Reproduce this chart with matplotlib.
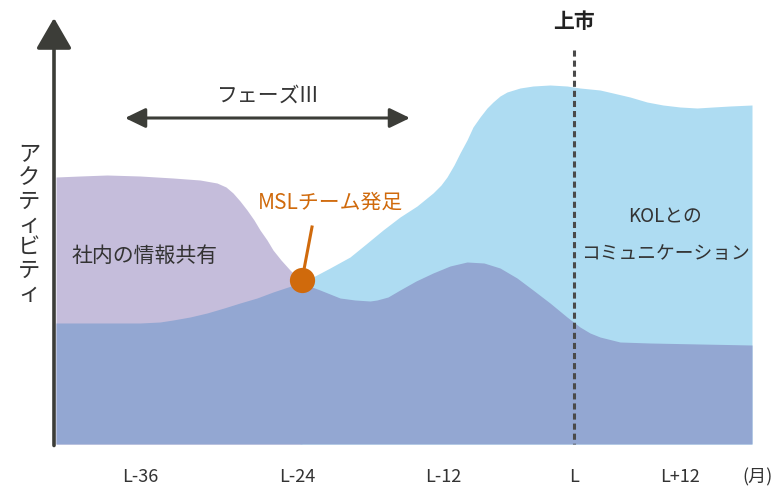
import matplotlib
matplotlib.use("Agg")
import matplotlib.pyplot as plt

plt.rcParams['font.family'] = ['Noto Sans CJK JP', 'DejaVu Sans']

# curves (x: horizontal position, y: screen row, top = 0)
purple_x = [56, 80, 107, 140, 173, 200, 217, 226, 233, 240, 247, 254, 260, 267, 273, 281, 290, 296, 302]
purple_y = [177, 176, 175, 176, 178, 180, 183, 187, 193, 201, 210, 220, 230, 240, 250, 260, 270, 276, 280]

blue_x = [300, 313, 330, 350, 366, 383, 400, 417, 433, 441, 447, 454, 460, 467, 473, 480, 487, 493, 500, 507,
          520, 533, 550, 567, 580, 600, 613, 630, 647, 663, 680, 697, 713, 730, 752]
blue_y = [281, 277, 268, 257, 244, 230, 217, 206, 193, 185, 177, 165, 153, 140, 127, 117, 108, 102, 96, 92,
          88, 86, 85, 86, 88, 90, 93, 97, 102, 105, 107, 108, 107, 106, 105]

base_x = [56, 100, 140, 160, 173, 190, 207, 224, 240, 257, 273, 288, 302, 312, 320, 330, 340, 355, 370, 377,
          388, 400, 416, 433, 450, 467, 484, 500, 517, 533, 550, 567, 580, 590, 600, 620, 650, 700, 752]
base_y = [323, 323, 323, 322, 320, 317, 313, 308, 303, 298, 292, 287, 283, 287, 290, 294, 298, 300, 301, 300,
          297, 290, 281, 273, 266, 262, 263, 268, 278, 290, 303, 317, 327, 333, 337, 342, 343, 344, 345]

tick_x = [140, 297, 443, 574, 680, 758]
tick_labels = ['L-36', 'L-24', 'L-12', 'L', 'L+12', '(月)']

launch_x = 574
msl_x, msl_y = 302, 280
phase_start, phase_end = 125, 410
axis_y = 444
axis_x = 54

c_purple = '#c5bddb'
c_blue = '#aedcf2'
c_base = '#93a7d2'
c_dark = '#3c3d38'
c_text = '#333333'
c_orange = '#d06a0c'

fig = plt.figure(figsize=(7.74, 4.90), dpi=100)
ax = fig.add_axes([0, 0, 1, 1])
ax.set_xlim(0, 774)
ax.set_ylim(490, 0)
ax.axis('off')

ax.fill_between(purple_x, purple_y, axis_y, color=c_purple, lw=0, zorder=1)
ax.fill_between(blue_x, blue_y, axis_y, color=c_blue, lw=0, zorder=1)
ax.fill_between(base_x, base_y, axis_y, color=c_base, lw=0, zorder=2)

# launch line
ax.plot([launch_x, launch_x], [50, axis_y], color='#4a4a4a', lw=2.2,
        linestyle=(0, (2.0, 1.3)), zorder=3)
ax.text(launch_x, 22, '上市', ha='center', va='center', fontsize=15,
        fontweight='bold', color='#222222')

# axes with arrows
ax.annotate('', xy=(axis_x, 18), xytext=(axis_x, axis_y + 1.5),
            arrowprops=dict(arrowstyle='-|>,head_length=0.95,head_width=0.55',
                            mutation_scale=20, lw=2.6, color=c_dark,
                            shrinkA=0, shrinkB=0), zorder=5)
ax.annotate('', xy=(776, axis_y), xytext=(axis_x - 1.5, axis_y),
            arrowprops=dict(arrowstyle='-|>,head_length=0.95,head_width=0.55',
                            mutation_scale=20, lw=2.6, color=c_dark,
                            shrinkA=0, shrinkB=0), zorder=5)

# phase III arrow
ax.annotate('', xy=(phase_end, 118), xytext=(phase_start, 118),
            arrowprops=dict(arrowstyle='<|-|>,head_length=0.62,head_width=0.3',
                            mutation_scale=20, lw=2.2, color=c_dark,
                            shrinkA=0, shrinkB=0), zorder=5)
ax.text((phase_start + phase_end) / 2, 96, 'フェーズIII', ha='center', va='center',
        fontsize=15, color=c_text)

# MSL marker
ax.plot([msl_x, msl_x + 10], [msl_y, 227], color=c_orange, lw=2.2, zorder=6)
ax.scatter([msl_x], [msl_y], s=330, color=c_orange, zorder=7, linewidths=0)
ax.text(330, 203, 'MSLチーム発足', ha='center', va='center', fontsize=15, color=c_orange)

# labels
ax.text(145, 256, '社内の情報共有', ha='center', va='center', fontsize=15, color=c_text)
ax.text(665, 217, 'KOLとの', ha='center', va='center', fontsize=13.5, color=c_text)
ax.text(665, 253, 'コミュニケーション', ha='center', va='center', fontsize=13.5, color=c_text)

ax.text(29, 224, '\n'.join('アクティビティ'), ha='center', va='center', fontsize=16,
        color=c_text, linespacing=1.0)

for x, lab in zip(tick_x, tick_labels):
    ax.text(x, 477, lab, ha='center', va='center', fontsize=13, color=c_text)

fig.savefig('out.png', dpi=100)
